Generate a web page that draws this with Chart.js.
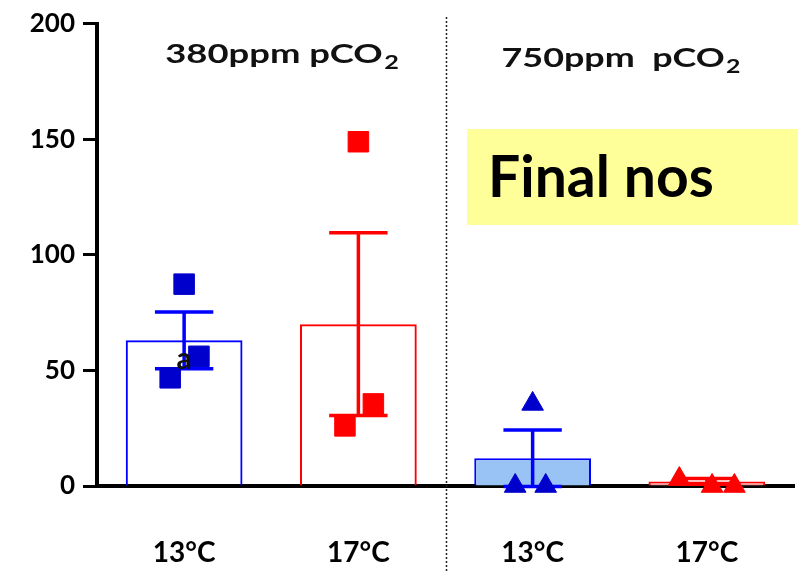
<!DOCTYPE html>
<html>
<head>
<meta charset="utf-8">
<script src="https://cdn.jsdelivr.net/npm/chart.js@4.4.1/dist/chart.umd.min.js"></script>
<style>
  body { margin: 0; background: #fff; }
  canvas { display: block; }
</style>
</head>
<body>
<canvas id="nosChart" width="798" height="571"></canvas>
<script>
// temperature treatments, two per CO2 level
const categories = ['13°C', '17°C', '13°C', '17°C'];
const co2Levels = ['380ppm pCO', '750ppm  pCO'];

// mean +/- SEM per treatment
const barMeans = [63, 70, 12, 2];
const barErrors = [12.3, 39.5, 12.2, 1.2];

// individual replicates
const replicates = [
  [87.3, 56.1, 46.8],
  [148.9, 35.5, 26.0],
  [35.5, 0, 0],
  [3.0, 0, 0]
];
// horizontal jitter of replicates inside each category
const jitter = [
  [0, 0.085, -0.08],
  [0, 0.086, -0.077],
  [0, -0.1, 0.075],
  [-0.158, 0.03, 0.158]
];

const yTicks = [0, 50, 100, 150, 200];

const blue = '#0000ff';
const red = '#ff0000';
const barBorder = [blue, red, blue, red];
const barFill = ['rgba(0,0,0,0)', 'rgba(0,0,0,0)', '#99c2f5', '#ff9a9a'];
const FONT = 'Lato';

function replicatePoints(i) {
  return replicates[i].map((v, k) => ({ x: i + jitter[i][k], y: v }));
}

function scatterSet(i, color, style) {
  return {
    type: 'scatter',
    xAxisID: 'xs',
    data: replicatePoints(i),
    pointStyle: style,
    pointRadius: style === 'rect' ? 14.5 : 12.5,
    pointHoverRadius: style === 'rect' ? 14.5 : 12.5,
    backgroundColor: color,
    borderColor: color,
    borderWidth: 1,
    clip: false,
    order: 1
  };
}

// CO2 label with a subscript 2, stretched sideways like the axis text
function co2Title(ctx, text, cx, baseline, size, stretch) {
  const subSize = Math.round(size * 0.68);
  ctx.font = `bold ${size}px ${FONT}`;
  const w1 = ctx.measureText(text).width;
  ctx.font = `bold ${subSize}px ${FONT}`;
  const w2 = ctx.measureText('2').width;
  ctx.save();
  ctx.translate(cx, baseline);
  ctx.scale(stretch, 1);
  const x0 = -(w1 + w2 + 1) / 2;
  ctx.fillStyle = '#111';
  ctx.textAlign = 'left';
  ctx.textBaseline = 'alphabetic';
  ctx.font = `bold ${size}px ${FONT}`;
  ctx.fillText(text, x0, 0);
  ctx.font = `bold ${subSize}px ${FONT}`;
  ctx.fillText('2', x0 + w1 + 1, size * 0.24);
  ctx.restore();
}

const extras = {
  id: 'extras',
  // SEM whiskers right after the bars, under the replicate markers
  afterDatasetDraw(chart, args) {
    if (args.meta.type !== 'bar') return;
    const ctx = chart.ctx;
    const y = chart.scales.y;
    args.meta.data.forEach((bar, i) => {
      const hi = y.getPixelForValue(barMeans[i] + barErrors[i]);
      const lo = y.getPixelForValue(barMeans[i] - barErrors[i]);
      const cap = bar.width / 4;
      ctx.save();
      ctx.strokeStyle = barBorder[i];
      ctx.lineWidth = 3.5;
      ctx.beginPath();
      ctx.moveTo(bar.x, hi); ctx.lineTo(bar.x, lo);
      ctx.moveTo(bar.x - cap, hi); ctx.lineTo(bar.x + cap, hi);
      ctx.moveTo(bar.x - cap, lo); ctx.lineTo(bar.x + cap, lo);
      ctx.stroke();
      ctx.restore();
    });
  },
  afterDraw(chart) {
    const ctx = chart.ctx;
    const x = chart.scales.x;
    const y = chart.scales.y;
    ctx.save();

    // dotted separator between the two CO2 levels
    const sepX = Math.round((x.getPixelForValue(1) + x.getPixelForValue(2)) / 2) + 0.5;
    ctx.strokeStyle = '#222';
    ctx.lineWidth = 1.5;
    ctx.setLineDash([2, 2]);
    ctx.beginPath();
    ctx.moveTo(sepX, 17);
    ctx.lineTo(sepX, chart.height);
    ctx.stroke();
    ctx.setLineDash([]);

    co2Title(ctx, co2Levels[0], 282, 63, 26, 1.4);
    co2Title(ctx, co2Levels[1], 621, 67, 26, 1.38);

    // significance letter
    ctx.fillStyle = '#111';
    ctx.font = `bold 30px ${FONT}`;
    ctx.textAlign = 'center';
    ctx.textBaseline = 'middle';
    ctx.fillText('a', x.getPixelForValue(0), y.getPixelForValue(55));

    // note box
    ctx.fillStyle = '#ffff99';
    ctx.fillRect(467, 129, 331, 96);
    ctx.fillStyle = '#000';
    ctx.font = `bold 57px ${FONT}`;
    ctx.textAlign = 'left';
    ctx.textBaseline = 'alphabetic';
    ctx.fillText('Final nos', 488, 197);

    ctx.restore();
  }
};

const ctx = document.getElementById('nosChart').getContext('2d');
new Chart(ctx, {
  data: {
    labels: categories,
    datasets: [
      scatterSet(0, '#0000cc', 'rect'),
      scatterSet(1, red, 'rect'),
      scatterSet(2, '#0000cc', 'triangle'),
      scatterSet(3, red, 'triangle'),
      {
        type: 'bar',
        data: barMeans,
        backgroundColor: barFill,
        borderColor: barBorder,
        borderWidth: 2,
        borderSkipped: 'bottom',
        grouped: false,
        barPercentage: 0.67,
        categoryPercentage: 1,
        order: 2
      }
    ]
  },
  options: {
    responsive: false,
    animation: false,
    devicePixelRatio: 1,
    layout: {
      autoPadding: false,
      padding: { top: 20, right: 4, left: 0, bottom: 0 }
    },
    plugins: {
      legend: { display: false },
      tooltip: { enabled: false }
    },
    scales: {
      x: {
        type: 'category',
        offset: true,
        afterFit(scale) {
          scale.height = 85;
          scale.paddingLeft = 0;
          scale.paddingRight = 0;
        },
        grid: { display: false, drawTicks: false },
        border: { display: true, color: '#000', width: 4 },
        ticks: {
          color: '#000',
          padding: 50,
          font: { family: FONT, size: 28, weight: 'bold' }
        }
      },
      xs: {
        type: 'linear',
        display: false,
        min: -0.5,
        max: 3.5
      },
      y: {
        min: 0,
        max: 200,
        afterFit(scale) { scale.width = 97; },
        afterBuildTicks(scale) { scale.ticks = yTicks.map(v => ({ value: v })); },
        grid: {
          drawOnChartArea: false,
          drawTicks: true,
          tickLength: 14,
          tickWidth: 3,
          tickColor: '#000'
        },
        border: { display: true, color: '#000', width: 4 },
        ticks: {
          color: '#000',
          padding: 8,
          font: { family: FONT, size: 26, weight: 'bold' }
        }
      }
    }
  },
  plugins: [extras]
});
</script>
</body>
</html>
